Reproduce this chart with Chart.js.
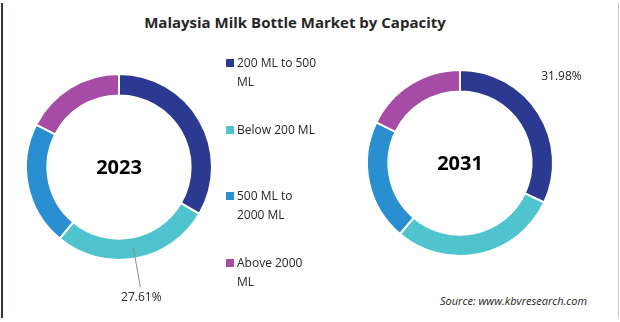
<!DOCTYPE html>
<html>
<head>
<meta charset="utf-8">
<script src="https://cdn.jsdelivr.net/npm/chart.js@4.4.1/dist/chart.umd.min.js"></script>
<style>
  body { margin: 0; background: #fff; font-family: "Open Sans", sans-serif; }
  #frame { position: absolute; left: 0; top: 0; width: 620px; height: 322px; overflow: hidden; }
  #frame:before { content: ""; position: absolute; left: 1px; top: 3px; bottom: 4px; width: 2px; background: #2f3a3f; }
  #frame:after { content: ""; position: absolute; right: 1px; top: 3px; bottom: 4px; width: 1px; background: #c8c8c8; }
  #title { position: absolute; left: 0; width: 590px; top: 12px; text-align: center; font-weight: bold; font-size: 15px; color: #262626; }
  canvas { position: absolute; }
  #legend { position: absolute; left: 226px; top: 0; }
  .item { position: absolute; left: 0; width: 140px; font-size: 12px; line-height: 19px; color: #262626; }
  .item span.box { position: absolute; left: 0; top: 6px; width: 8px; height: 8px; }
  .item div { padding-left: 11px; }
  #source { position: absolute; left: 440px; top: 293px; font-size: 11px; font-style: italic; color: #222; }
</style>
</head>
<body>
<div id="frame">
  <div id="title">Malaysia Milk Bottle Market by Capacity</div>
  <canvas id="chart-2023" width="238" height="270" style="left:0px;top:40px"></canvas>
  <canvas id="chart-2031" width="270" height="230" style="left:340px;top:50px"></canvas>
  <div id="legend"></div>
  <div id="source">Source: www.kbvresearch.com</div>
</div>
<script>
  // categories (legend text, wrapped the same way as the picture)
  const categories = [
    ["200 ML to 500", "ML"],
    ["Below 200 ML"],
    ["500 ML to", "2000 ML"],
    ["Above 2000", "ML"]
  ];
  const colors = ["#2b3990", "#4fc4cf", "#2a8fd0", "#a64ca6"];

  // market share, %
  const share2023 = [33.4, 27.61, 21.5, 17.49];
  const share2031 = [31.98, 29.2, 21.0, 17.82];

  // which slice carries a printed value
  const shown2023 = 1;
  const shown2031 = 0;

  /* legend as html, each entry spaced down the middle column */
  const legend = document.getElementById("legend");
  categories.forEach(function (lines, i) {
    let item = document.createElement("div");
    item.className = "item";
    item.style.top = (53 + i * 66.5) + "px";
    item.innerHTML = "<span class='box' style='background:" + colors[i] + "'></span><div>" +
      lines.join("<br>") + "</div>";
    legend.appendChild(item);
  });

  /* year in the hole of the ring */
  const centerText = {
    id: "centerText",
    afterDraw(chart, args, opts) {
      const ctx = chart.ctx;
      const arc = chart.getDatasetMeta(0).data[0];
      ctx.save();
      ctx.font = "bold 20px 'Open Sans'";
      ctx.fillStyle = "#000";
      ctx.textAlign = "center";
      ctx.textBaseline = "middle";
      ctx.fillText(opts.text, arc.x, arc.y + 1);
      ctx.restore();
    }
  };

  /* one value label, optional leader line */
  const valueLabel = {
    id: "valueLabel",
    afterDraw(chart, args, opts) {
      const ctx = chart.ctx;
      const i = opts.index;
      const arc = chart.getDatasetMeta(0).data[i];
      const value = chart.data.datasets[0].data[i];
      const p = arc.tooltipPosition();
      ctx.save();
      if (opts.line) {
        ctx.strokeStyle = "#8c8c8c";
        ctx.lineWidth = 1;
        ctx.beginPath();
        ctx.moveTo(p.x, p.y);
        ctx.lineTo(p.x + opts.line[0], p.y + opts.line[1]);
        ctx.stroke();
      }
      ctx.font = "12px 'Open Sans'";
      ctx.fillStyle = "#262626";
      ctx.textAlign = "center";
      ctx.textBaseline = "middle";
      ctx.fillText(value.toFixed(2) + "%", p.x + opts.dx, p.y + opts.dy);
      ctx.restore();
    }
  };

  function create_ring(id, year, values, shown, labelOpts, pad) {
    labelOpts.index = shown;
    return new Chart(document.getElementById(id), {
      type: "doughnut",
      data: {
        labels: categories,
        datasets: [
          {
            data: values,
            backgroundColor: colors,
            borderColor: "#ffffff",
            borderWidth: 2,
          },
        ],
      },
      options: {
        responsive: false,
        animation: false,
        cutout: "77%",
        layout: { padding: pad },
        plugins: {
          legend: { display: false },
          tooltip: { enabled: false },
          centerText: { text: year },
          valueLabel: labelOpts,
        },
      },
      plugins: [centerText, valueLabel],
    });
  }

  create_ring("chart-2023", "2023", share2023, shown2023,
    { line: [7, 39], dx: 8, dy: 50 },
    { left: 25, right: 25, top: 33, bottom: 49 });
  create_ring("chart-2031", "2031", share2031, shown2031,
    { line: null, dx: 32, dy: -42 },
    { left: 26, right: 56, top: 19, bottom: 23 });
</script>
</body>
</html>
